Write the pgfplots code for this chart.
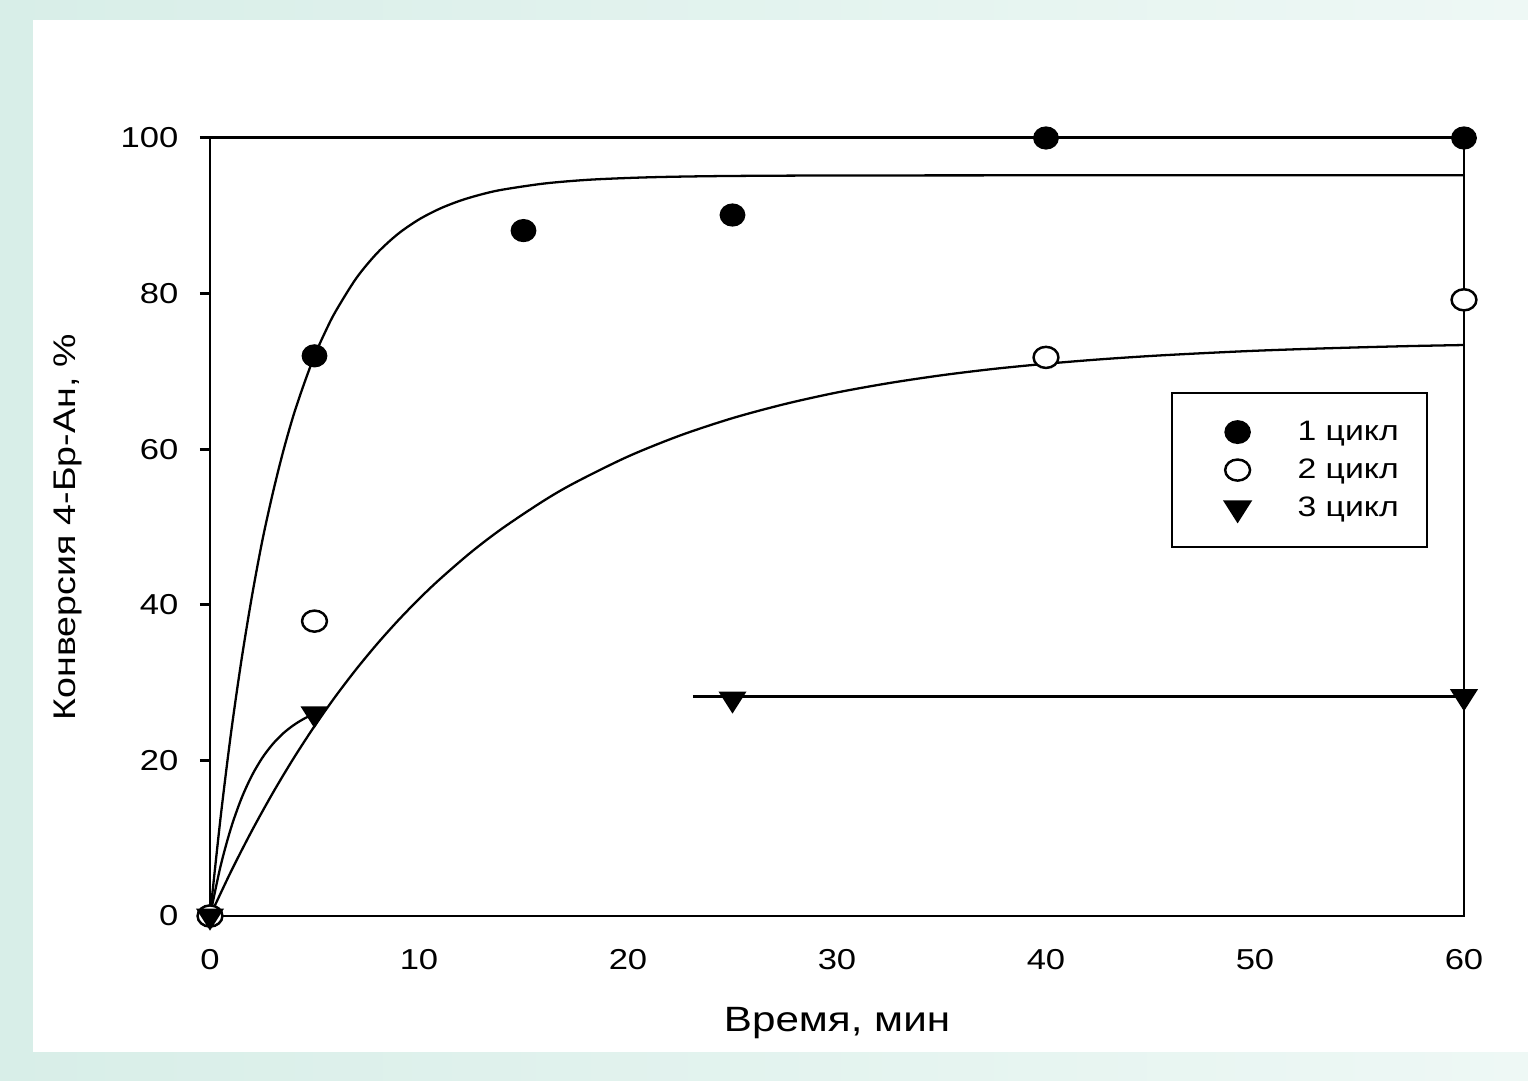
\documentclass[border=0pt]{standalone}
\usepackage{fontspec}
\setmainfont{Liberation Sans}[FakeStretch=1.2]
\usepackage{pgfplots}
\pgfplotsset{compat=1.18}
\definecolor{bgA}{HTML}{D8EEE8}
\definecolor{bgB}{HTML}{EEF8F5}
\begin{document}
\begin{tikzpicture}
\useasboundingbox (-21mm,-16.4mm) rectangle (131.8mm,91.6mm);
\shade[left color=bgA, right color=bgB] (-21mm,-16.4mm) rectangle (131.8mm,91.6mm);
\fill[white] (-17.7mm,-13.6mm) rectangle (131.8mm,89.6mm);
\begin{axis}[
  at={(0mm,0mm)}, anchor=south west,
  scale only axis, width=125.4mm, height=77.8mm,
  xmin=0, xmax=60, ymin=0, ymax=100,
  xtick={0,10,...,60}, ytick={0,20,...,100},
  tick align=outside, major tick length=1mm,
  x tick style={draw=none},
  y tick style={line width=0.85pt, black},
  ytick pos=left,
  axis line style={line width=0.85pt},
  tick label style={font=\fontsize{8.2}{9.6}\selectfont},
  /pgf/number format/assume math mode=true,
  xticklabel style={anchor=center, yshift=-3.4mm},
  yticklabel style={anchor=east, inner sep=0pt, xshift=-2.1mm},
  xlabel={Время, мин}, ylabel={Конверсия 4-Бр-Ан, \%},
  xlabel style={font=\fontsize{10}{12}\selectfont, at={(axis description cs:0.5,-0.1375)}, anchor=center},
  ylabel style={font=\fontsize{8.9}{11}\selectfont, at={(axis description cs:-0.1132,0.5)}, anchor=center},
  clip=false,
  legend style={at={(0.766,0.6735)}, anchor=north west, draw=black, line width=0.6pt, fill=white,
    font=\fontsize{8}{9.5}\selectfont, inner xsep=2.8mm, inner ysep=2mm, row sep=0pt,
    nodes={inner sep=0pt, text height=2.7mm, text depth=1.1mm}},
  legend cell align=left,
  legend image code/.code={\path[draw=none, fill=none] (-0.8mm,-1mm) rectangle (9mm,1mm);
    \draw[#1, mark repeat=2, mark phase=2] plot coordinates {(0mm,0mm)(3mm,0mm)(6mm,0mm)};},
]
\addplot[only marks, mark=*, mark size=3.1pt, mark options={xscale=1.12, fill=black, draw=black}]
  coordinates {(0,0)(5,72)(15,88.1)(25,90.1)(40,100)(60,100)};
\addlegendentry{1 цикл}
\addplot[only marks, mark=*, mark size=3pt, mark options={xscale=1.18, fill=white, draw=black, line width=0.7pt}]
  coordinates {(0,0)(5,37.9)(40,71.8)(60,79.2)};
\addlegendentry{2 цикл}
\addplot[only marks, mark=triangle*, mark size=3.8pt, mark options={rotate=180, xscale=1.1, fill=black, draw=black}]
  coordinates {(0,0)(5,26)(25,27.9)(60,28.2)};
\addlegendentry{3 цикл}
\addplot[forget plot, smooth, line width=0.65pt, black] coordinates {
(0,0)(0.5,12.5)(1,23.4)(1.5,32.8)(2,41.0)(2.5,48.2)(3,54.3)(3.5,59.7)(4,64.4)(4.5,68.4)(5,72.0)
(5.5,75.0)(6,77.66)(7,81.98)(8,85.22)(9,87.68)(10,89.53)(11,90.92)(12,91.97)(13,92.76)(14,93.36)
(16,94.15)(18,94.61)(20,94.86)(22,95.01)(25,95.12)(30,95.18)(40,95.2)(50,95.2)(60,95.2)};
\addplot[forget plot, smooth, line width=0.65pt, black] coordinates {
(0,0)(1,5.69)(2,10.94)(3,15.79)(4,20.27)(5,24.40)(6,28.21)(7,31.73)(8,34.98)(9,37.98)(10,40.75)
(11,43.30)(12.5,46.78)(14,49.85)(16,53.43)(17.5,55.75)(20,59.06)(22.5,61.77)(25,63.99)(27.5,65.80)
(30,67.29)(32.5,68.50)(35,69.50)(37.5,70.32)(40,70.98)(42.5,71.53)(45,71.98)(47.5,72.34)(50,72.65)
(52.5,72.89)(55,73.09)(57.5,73.26)(60,73.39)};
\addplot[forget plot, smooth, line width=0.65pt, black] coordinates {
(0,0)(0.5,6.35)(1,11.27)(1.5,15.08)(2,18.03)(2.5,20.32)(3,22.09)(3.5,23.47)(4,24.53)(4.5,25.36)(5,26.0)};
\addplot[forget plot, line width=0.65pt, black] coordinates {(23.1,28.2)(60,28.2)};
\end{axis}
\end{tikzpicture}
\end{document}
